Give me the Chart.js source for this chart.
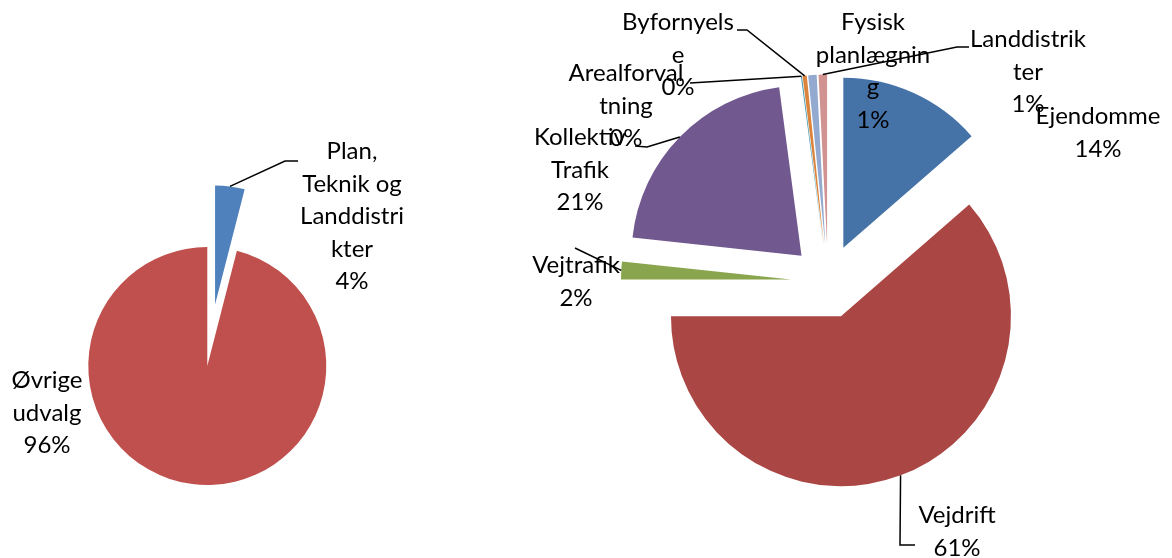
<!DOCTYPE html>
<html>
<head>
<meta charset="utf-8">
<script src="https://cdn.jsdelivr.net/npm/chart.js@4/dist/chart.umd.min.js"></script>
<style>
  body { margin: 0; background: #fff; }
  #wrap { position: relative; width: 1172px; height: 558px; }
  canvas { position: absolute; left: 0; top: 0; }
</style>
</head>
<body>
<div id="wrap">
  <canvas id="leftPie" width="1172" height="558"></canvas>
  <canvas id="rightPie" width="1172" height="558"></canvas>
</div>
<script>
// Data - left pie (share of the whole budget)
const leftCategories = ['Plan, Teknik og Landdistrikter', 'Øvrige udvalg'];
const leftValues = [4, 96];
const leftColors = ['#4F81BD', '#C0504D'];

// Data - right pie (split of Plan, Teknik og Landdistrikter)
const rightCategories = ['Ejendomme', 'Vejdrift', 'Vejtrafik', 'Kollektiv Trafik',
    'Arealforvaltning', 'Byfornyelse', 'Fysisk planlægning', 'Landdistrikter'];
const rightValues = [13.6, 61.4, 1.7, 21.2, 0.1, 0.4, 0.8, 0.8];
const rightColors = ['#4572A7', '#AA4643', '#89A54E', '#71588F', '#4198AF', '#DB843D', '#93A9CF', '#D19392'];

// Layout of slices (explosion in px)
const leftExplode = [62, 0];
const rightExplode = [37, 37, 37, 37, 37, 37, 37, 37];

// Label layout: wrapped lines as Excel shows them, centre x, first baseline, leader elbows
const leftLabels = [
    { lines: ['Plan,', 'Teknik og', 'Landdistri', 'kter'], x: 352, y: 159, leader: [[285, 161], [298, 161]] },
    { lines: ['Øvrige', 'udvalg'], x: 47, y: 388, leader: null }
];
const rightLabels = [
    { lines: ['Ejendomme'], x: 1098, y: 124, leader: null },
    { lines: ['Vejdrift'], x: 957, y: 523, leader: [[900, 545], [915, 545]] },
    { lines: ['Vejtrafik'], x: 576, y: 273, leader: [[575, 248]] },
    { lines: ['Kollektiv', 'Trafik'], x: 580, y: 145, leader: [[647, 147], [635, 146]] },
    { lines: ['Arealforval', 'tning'], x: 626, y: 81, leader: [[690, 83]] },
    { lines: ['Byfornyels', 'e'], x: 678, y: 30, leader: [[747, 30], [737, 30]] },
    { lines: ['Fysisk', 'planlægnin', 'g'], x: 873, y: 30, leader: null },
    { lines: ['Landdistrik', 'ter'], x: 1028, y: 47, leader: [[957, 47], [969, 47]] }
];

const FONT = '24px Lato';
const LINE_H = 32.5;

// Shift each arc along its mid angle while it is drawn
function makeExplode(distances) {
    return {
        id: 'explode',
        beforeDatasetDraw(chart, args) {
            args.meta.data.forEach((arc, i) => {
                const mid = (arc.startAngle + arc.endAngle) / 2;
                arc.x += Math.cos(mid) * distances[i];
                arc.y += Math.sin(mid) * distances[i];
            });
        },
        afterDatasetDraw(chart, args) {
            args.meta.data.forEach((arc, i) => {
                const mid = (arc.startAngle + arc.endAngle) / 2;
                arc.x -= Math.cos(mid) * distances[i];
                arc.y -= Math.sin(mid) * distances[i];
            });
        }
    };
}

// Data labels with leader lines
function makeLabels(values, distances, layout) {
    const total = values.reduce((a, b) => a + b, 0);
    return {
        id: 'pieLabels',
        afterDraw(chart) {
            const ctx = chart.ctx;
            const arcs = chart.getDatasetMeta(0).data;
            ctx.save();
            arcs.forEach((arc, i) => {
                const lab = layout[i];
                if (lab.leader) {
                    const mid = (arc.startAngle + arc.endAngle) / 2;
                    const r = arc.outerRadius + distances[i];
                    ctx.beginPath();
                    ctx.moveTo(arc.x + Math.cos(mid) * r, arc.y + Math.sin(mid) * r);
                    lab.leader.forEach(p => ctx.lineTo(p[0], p[1]));
                    ctx.strokeStyle = '#000';
                    ctx.lineWidth = 1.5;
                    ctx.stroke();
                }
            });
            ctx.font = FONT;
            ctx.fillStyle = '#000';
            ctx.textAlign = 'center';
            ctx.textBaseline = 'alphabetic';
            arcs.forEach((arc, i) => {
                const lab = layout[i];
                const lines = lab.lines.concat([Math.round(values[i] / total * 100) + '%']);
                lines.forEach((t, k) => ctx.fillText(t, lab.x, lab.y + k * LINE_H));
            });
            ctx.restore();
        }
    };
}

function makePie(id, labels, values, colors, explode, layout, center, radius) {
    const el = document.getElementById(id);
    const W = el.width, H = el.height;
    return new Chart(el.getContext('2d'), {
        type: 'pie',
        data: {
            labels: labels,
            datasets: [{
                data: values,
                backgroundColor: colors,
                borderWidth: 0,
                radius: radius
            }]
        },
        options: {
            responsive: false,
            animation: false,
            events: [],
            layout: {
                padding: {
                    left: Math.max(2 * center[0] - W, 0),
                    right: Math.max(W - 2 * center[0], 0),
                    top: Math.max(2 * center[1] - H, 0),
                    bottom: Math.max(H - 2 * center[1], 0)
                }
            },
            plugins: {
                legend: { display: false },
                tooltip: { enabled: false }
            }
        },
        plugins: [makeExplode(explode), makeLabels(values, explode, layout)]
    });
}

document.fonts.load(FONT).finally(() => {
    makePie('leftPie', leftCategories, leftValues, leftColors, leftExplode, leftLabels, [207.3, 366], 119);
    makePie('rightPie', rightCategories, rightValues, rightColors, rightExplode, rightLabels, [828, 281.5], 170);
});
</script>
</body>
</html>
